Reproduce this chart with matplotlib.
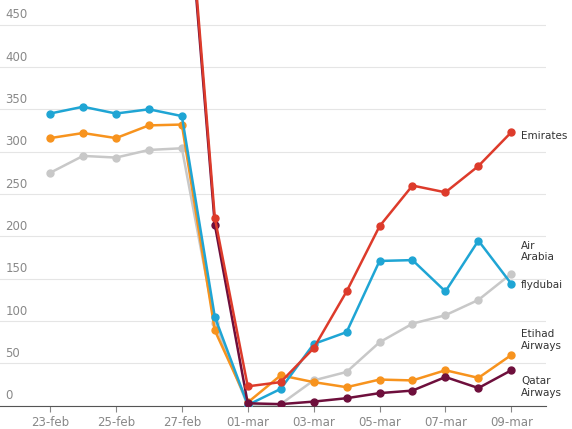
import matplotlib
matplotlib.use("Agg")
import matplotlib.pyplot as plt

days = ["23-feb", "24-feb", "25-feb", "26-feb", "27-feb", "28-feb", "01-mar",
        "02-mar", "03-mar", "04-mar", "05-mar", "06-mar", "07-mar", "08-mar", "09-mar"]

emirates = [720, 730, 725, 735, 700, 222, 23, 28, 68, 135, 212, 260, 252, 283, 323]
flydubai = [345, 353, 345, 350, 342, 105, 1, 20, 73, 87, 171, 172, 135, 195, 144]
etihad = [316, 322, 316, 331, 332, 89, 4, 36, 28, 22, 31, 30, 42, 33, 60]
air_arabia = [275, 295, 293, 302, 304, 98, 0, 2, 30, 40, 75, 97, 107, 125, 156]
qatar = [700, 710, 705, 715, 690, 214, 3, 2, 5, 9, 15, 18, 34, 21, 42]

series = [
    ("Air\nArabia", air_arabia, "#c8c8c8", 182),
    ("Etihad\nAirways", etihad, "#f7931e", 78),
    ("flydubai", flydubai, "#1fa5d4", 143),
    ("Qatar\nAirways", qatar, "#6e0f3c", 22),
    ("Emirates", emirates, "#dd3b2b", 319),
]

fig, ax = plt.subplots(figsize=(5.72, 4.29), dpi=100)
fig.subplots_adjust(left=0.0, right=0.955, top=1.0, bottom=0.054)
x = list(range(len(days)))
for name, vals, color, ly in series:
    ax.plot(x, vals, color=color, lw=1.8, marker="o", ms=5, zorder=3)
    ax.text(14.3, ly, name, color="#333333", fontsize=7.5, va="center",
            ha="left", clip_on=False)

ax.set_ylim(0, 479)
ax.set_xlim(-1.52, 15.06)
ax.set_yticks(range(0, 451, 50))
ax.set_yticklabels([])
ax.tick_params(axis="y", length=0)
for v in range(0, 451, 50):
    ax.text(0.01, v + 4, str(v), transform=ax.get_yaxis_transform(),
            fontsize=8.5, color="#888888", va="bottom", ha="left")
ax.set_xticks(x[::2])
ax.set_xticklabels(days[::2])
ax.tick_params(axis="x", length=4, labelsize=8.5, colors="#888888")
ax.grid(axis="y", color="#e5e5e5", lw=0.8)
for s in ["top", "right", "left"]:
    ax.spines[s].set_visible(False)
ax.spines["bottom"].set_color("#555555")
ax.set_axisbelow(True)
fig.savefig("out.png")
